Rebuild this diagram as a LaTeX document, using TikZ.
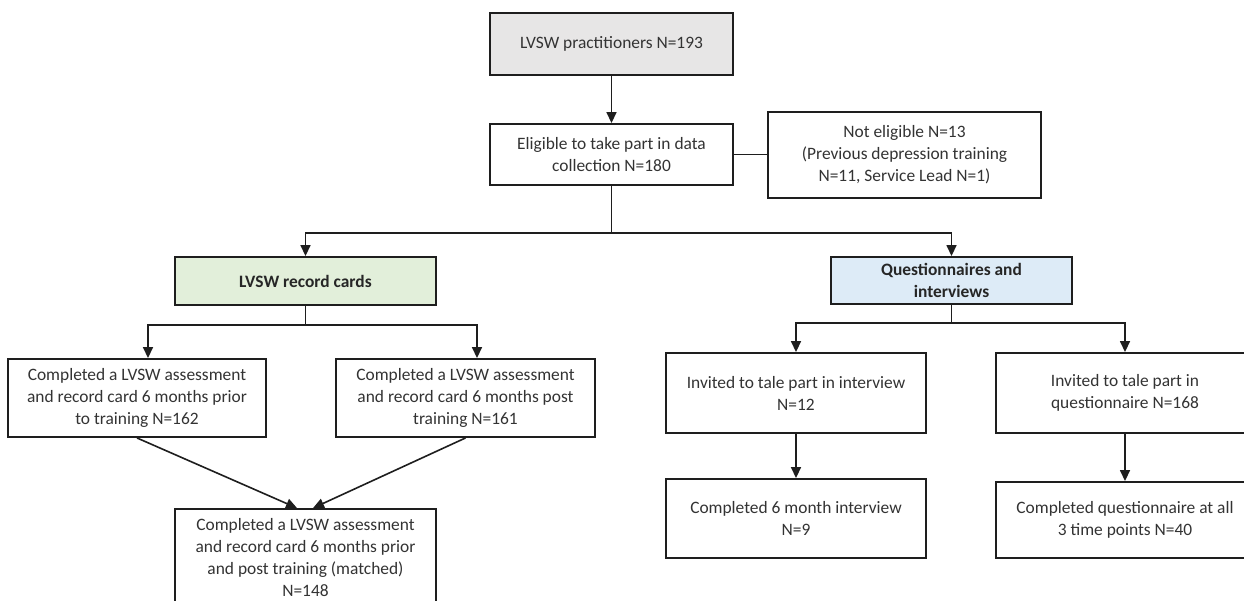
\documentclass[tikz,border=0pt]{standalone}
\usepackage{fontspec}
\setmainfont{Carlito}
\usetikzlibrary{arrows.meta,calc}
\definecolor{txt}{HTML}{333333}
\definecolor{edge}{HTML}{1E1E1E}
\definecolor{grayfill}{HTML}{E7E6E6}
\definecolor{greenfill}{HTML}{E2EFDA}
\definecolor{bluefill}{HTML}{DDEBF7}
\tikzset{
  box/.style={draw=edge, line width=1.9pt, rectangle, align=center, inner sep=2pt,
    font=\fontsize{17.4}{22}\selectfont, text=txt},
  hdr/.style={box, font=\fontsize{17.4}{22}\selectfont\bfseries, text=black!85},
  arr/.style={draw=edge, line width=1.6pt, -{Triangle[length=11pt,width=10pt]}},
  ln/.style={draw=edge, line width=1.6pt}
}
\begin{document}
\begin{tikzpicture}[x=1pt,y=-1pt]
\path[use as bounding box, clip] (0,0) rectangle (1244,600);
\fill[white] (0,0) rectangle (1244,600);

\node[box, fill=grayfill, minimum width=243pt, minimum height=62pt] (top) at (611.5,44) {LVSW practitioners N=193};
\node[box, minimum width=243pt, minimum height=61pt] (elig) at (611.5,154.5) {Eligible to take part in data\\collection N=180};
\node[box, minimum width=273pt, minimum height=86pt] (notel) at (904.5,155) {Not eligible N=13\\(Previous depression training\\N=11, Service Lead N=1)};

\node[hdr, fill=greenfill, minimum width=261pt, minimum height=48pt] (green) at (305.5,281) {LVSW record cards};
\node[hdr, fill=bluefill, minimum width=241pt, minimum height=47pt] (blue) at (951.5,280.5) {Questionnaires and\\interviews};

\node[box, minimum width=258pt, minimum height=78pt] (L1) at (137,398) {Completed a LVSW assessment\\and record card 6 months prior\\to training N=162};
\node[box, minimum width=259pt, minimum height=78pt] (L2) at (465.5,398) {Completed a LVSW assessment\\and record card 6 months post\\training N=161};
\node[box, minimum width=261pt, minimum height=98pt] (L3) at (305.5,558) {Completed a LVSW assessment\\and record card 6 months prior\\and post training (matched)\\N=148};

\node[box, minimum width=260pt, minimum height=80pt] (R1) at (796,393) {Invited to tale part in interview\\N=12};
\node[box, minimum width=258pt, minimum height=80pt] (R2) at (1125,393) {Invited to tale part in\\questionnaire N=168};
\node[box, minimum width=260pt, minimum height=79pt] (R3) at (796,518.5) {Completed 6 month interview\\N=9};
\node[box, minimum width=258pt, minimum height=76pt] (R4) at (1125,520) {Completed questionnaire at all\\3 time points N=40};

\coordinate (j1) at (611.5,233);
\coordinate (j2) at (305.5,325);
\coordinate (j3) at (951.5,323);

\draw[arr] (top) -- (elig);
\draw[ln] (elig.east) -- (elig.east -| notel.west);
\draw[ln] (elig.south) -- (j1);
\draw[arr] (j1) -| (green.north);
\draw[arr] (j1) -| (blue.north);

\draw[ln] (green.south) -- (j2);
\draw[arr] (j2) -| ($(L1.north)+(11,0)$);
\draw[arr] (j2) -| ($(L2.north)+(11.5,0)$);
\draw[arr] (L1.south) -- ($(L3.north)+(-8.5,0)$);
\draw[arr] (L2.south) -- ($(L3.north)+(7.5,0)$);

\draw[ln] (blue.south) -- (j3);
\draw[arr] (j3) -| (R1.north);
\draw[arr] (j3) -| (R2.north);
\draw[arr] (R1) -- (R3);
\draw[arr] (R2) -- (R4);
\end{tikzpicture}
\end{document}
